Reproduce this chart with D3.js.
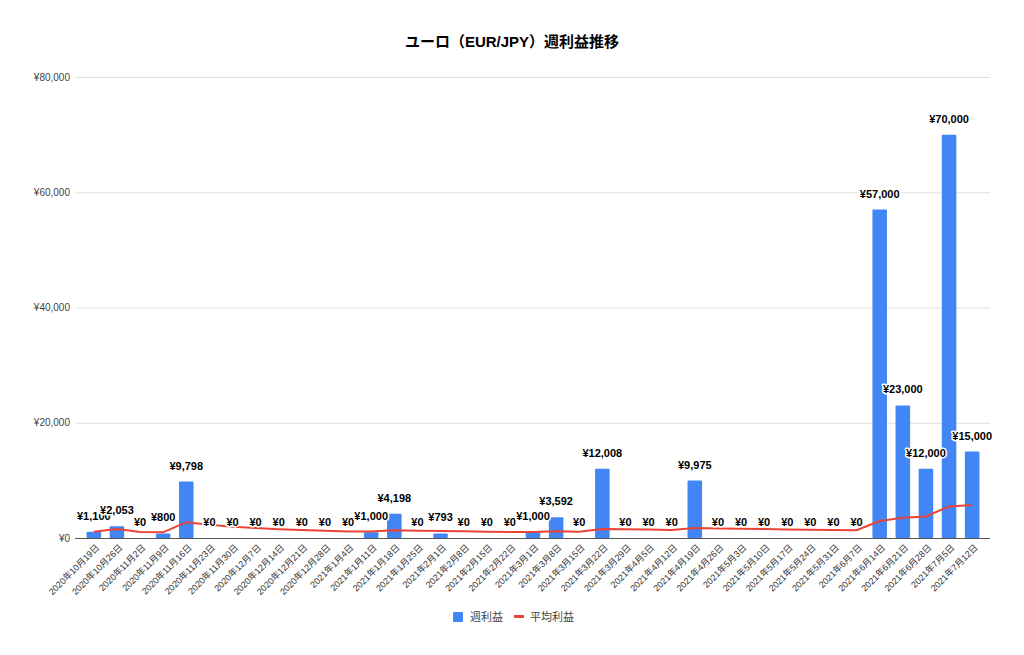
<!DOCTYPE html>
<html>
<head>
<meta charset="utf-8">
<script src="https://cdn.jsdelivr.net/npm/d3@7"></script>
<style>
  body { margin: 0; background: #fff; }
  svg { font-family: 'Liberation Sans', 'Noto Sans CJK JP', sans-serif; }
</style>
</head>
<body>
<svg width="1024" height="655"></svg>
<script>
const weeks = [
	'2020年10月19日', '2020年10月26日', '2020年11月2日', '2020年11月9日', '2020年11月16日',
	'2020年11月23日', '2020年11月30日', '2020年12月7日', '2020年12月14日', '2020年12月21日',
	'2020年12月28日', '2021年1月4日', '2021年1月11日', '2021年1月18日', '2021年1月25日',
	'2021年2月1日', '2021年2月8日', '2021年2月15日', '2021年2月22日', '2021年3月1日',
	'2021年3月8日', '2021年3月15日', '2021年3月22日', '2021年3月29日', '2021年4月5日',
	'2021年4月12日', '2021年4月19日', '2021年4月26日', '2021年5月3日', '2021年5月10日',
	'2021年5月17日', '2021年5月24日', '2021年5月31日', '2021年6月7日', '2021年6月14日',
	'2021年6月21日', '2021年6月28日', '2021年7月5日', '2021年7月12日'
];
const weeklyProfit = [
	1100, 2053, 0, 800, 9798, 0, 0, 0, 0, 0,
	0, 0, 1000, 4198, 0, 793, 0, 0, 0, 1000,
	3592, 0, 12008, 0, 0, 0, 9975, 0, 0, 0,
	0, 0, 0, 0, 57000, 23000, 12000, 70000, 15000
];
const averageProfit = [
	1100, 1577, 1051, 988, 2750, 2292, 1964, 1719, 1528, 1375,
	1250, 1146, 1135, 1354, 1263, 1234, 1161, 1097, 1039, 1037,
	1159, 1106, 1580, 1514, 1454, 1398, 1715, 1654, 1597, 1544,
	1494, 1447, 1404, 1363, 2952, 3509, 3738, 5482, 5726
];
const yTicks = [0, 20000, 40000, 60000, 80000];
const title = 'ユーロ（EUR/JPY）週利益推移';
const seriesNames = ['週利益', '平均利益'];

const barColor = '#4285f4';
const lineColor = '#ea4335';

const svg = d3.select('svg');
const plotLeft = 78, plotRight = 988, plotTop = 77, plotBottom = 538;

const x = d3.scaleBand().domain(weeks).range([plotLeft, plotRight]).padding(0.37);
const y = d3.scaleLinear().domain([0, 80000]).range([plotBottom, plotTop]);
const yen = (v) => '¥' + d3.format(',')(v);

svg.append('text')
	.attr('x', 512).attr('y', 47)
	.attr('text-anchor', 'middle')
	.attr('font-size', 15).attr('font-weight', 'bold')
	.attr('fill', '#000')
	.text(title);

// gridlines + y labels
const yAxis = svg.append('g').attr('transform', `translate(${plotLeft - 3},0)`)
	.call(d3.axisLeft(y).tickValues(yTicks).tickSize(-(plotRight - plotLeft + 5)).tickFormat(yen));
yAxis.select('.domain').remove();
yAxis.selectAll('.tick line').attr('stroke', '#e0e0e0').attr('stroke-width', 1)
	.filter((d) => d === 0).remove();
yAxis.selectAll('.tick text').attr('x', -5).attr('font-size', 10).attr('fill', '#444')
	.attr('font-family', "'Liberation Sans', sans-serif");

// bars
svg.append('g').selectAll('rect')
	.data(weeklyProfit)
	.join('rect')
	.attr('x', (d, i) => x(weeks[i]))
	.attr('y', (d) => y(d))
	.attr('width', x.bandwidth())
	.attr('height', (d) => plotBottom - y(d))
	.attr('rx', 1)
	.attr('fill', barColor);

// baseline
svg.append('line')
	.attr('x1', plotLeft - 3).attr('x2', plotRight + 2)
	.attr('y1', plotBottom + 0.5).attr('y2', plotBottom + 0.5)
	.attr('stroke', '#555').attr('stroke-width', 1);

// average line
const line = d3.line()
	.x((d, i) => x(weeks[i]) + x.bandwidth() / 2)
	.y((d) => y(d));
svg.append('path')
	.datum(averageProfit)
	.attr('d', line)
	.attr('fill', 'none')
	.attr('stroke', lineColor)
	.attr('stroke-width', 2);

// value labels
svg.append('g').selectAll('text')
	.data(weeklyProfit)
	.join('text')
	.attr('x', (d, i) => x(weeks[i]) + x.bandwidth() / 2)
	.attr('y', (d) => y(d) - 12)
	.attr('text-anchor', 'middle')
	.attr('font-size', 11).attr('font-weight', 'bold')
	.attr('fill', '#000')
	.attr('stroke', '#fff').attr('stroke-width', 3)
	.attr('paint-order', 'stroke')
	.attr('stroke-linejoin', 'round')
	.text(yen);

// x labels
const xAxis = svg.append('g').attr('transform', `translate(0,${plotBottom})`)
	.call(d3.axisBottom(x).tickSize(0));
xAxis.select('.domain').remove();
xAxis.selectAll('.tick text')
	.attr('font-size', 9)
	.attr('fill', '#333')
	.attr('font-family', "'Liberation Sans', 'Noto Sans CJK JP', sans-serif")
	.attr('text-anchor', 'end')
	.attr('dy', 0)
	.attr('transform', 'translate(4,8) rotate(-45)');

// legend
const legend = svg.append('g').attr('font-size', 11).attr('fill', '#444');
legend.append('rect').attr('x', 453).attr('y', 612).attr('width', 10).attr('height', 10).attr('rx', 1).attr('fill', barColor);
legend.append('text').attr('x', 470).attr('y', 621).attr('fill', '#444').text(seriesNames[0]);
legend.append('line').attr('x1', 514).attr('x2', 524).attr('y1', 616.5).attr('y2', 616.5)
	.attr('stroke', lineColor).attr('stroke-width', 3);
legend.append('text').attr('x', 530).attr('y', 621).attr('fill', '#444').text(seriesNames[1]);
</script>
</body>
</html>
